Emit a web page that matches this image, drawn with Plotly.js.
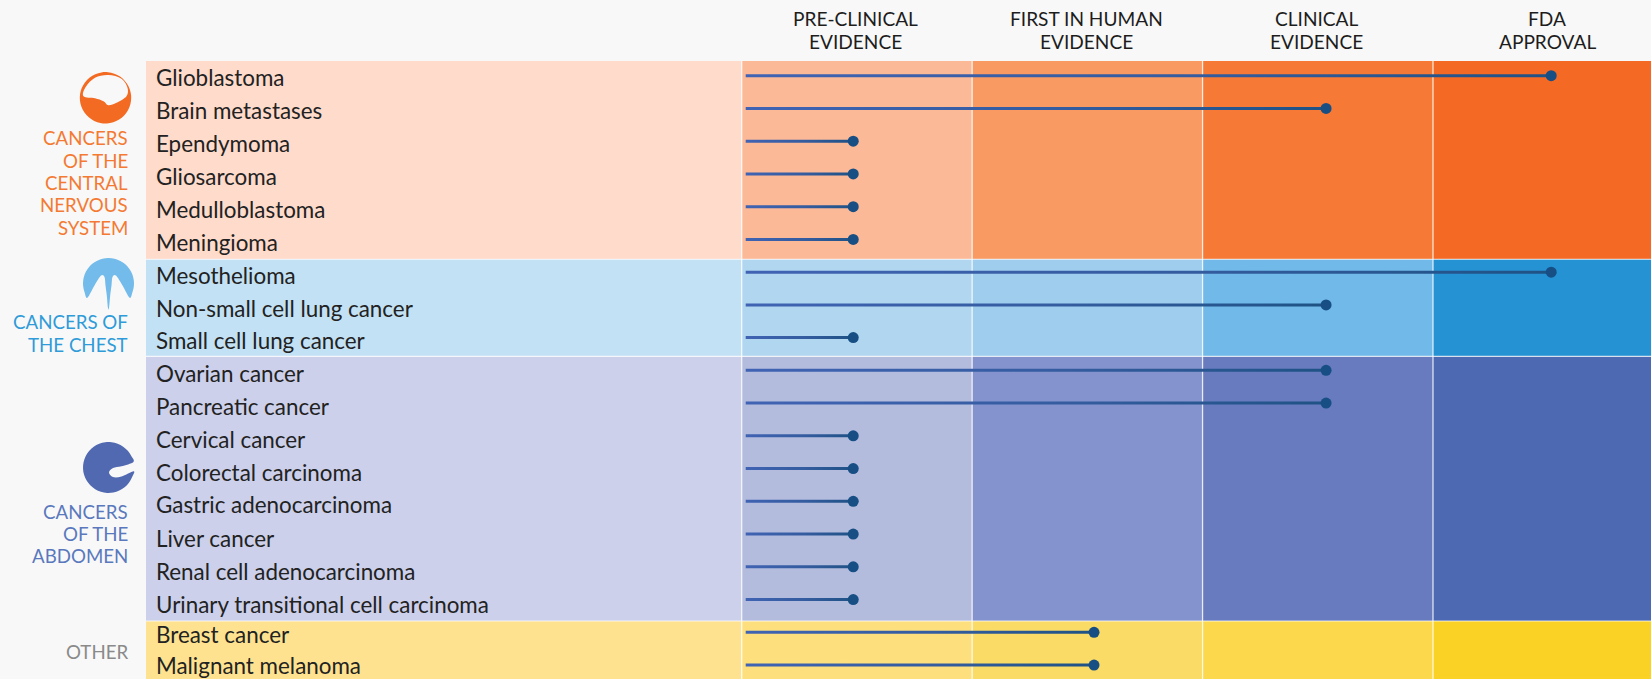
<!DOCTYPE html>
<html>
<head>
<meta charset="utf-8">
<script src="https://cdn.plot.ly/plotly-3.0.1.min.js"></script>
<style>html,body{margin:0;padding:0;background:#f8f8f8}#chart{width:1651px;height:679px}</style>
</head>
<body>
<div id="chart"></div>
<script>
// Cancer types in display order, with the furthest evidence stage each has reached.
const cancers = ["Glioblastoma","Brain metastases","Ependymoma","Gliosarcoma","Medulloblastoma","Meningioma",
  "Mesothelioma","Non-small cell lung cancer","Small cell lung cancer",
  "Ovarian cancer","Pancreatic cancer","Cervical cancer","Colorectal carcinoma","Gastric adenocarcinoma","Liver cancer","Renal cell adenocarcinoma","Urinary transitional cell carcinoma",
  "Breast cancer","Malignant melanoma"];
const stageReached = [3.513,2.536,0.484,0.484,0.484,0.484, 3.513,2.536,0.484, 2.536,2.536,0.484,0.484,0.484,0.484,0.484,0.484, 1.529,1.529];
const labelNudge = [1.4,1.8,2.2,2.8,2.6,3.4,3.2,3.4,2.8,2.8,3.2,3.8,4.2,3.6,4.1,4.8,4.6,2.6,0.1];
const stages = ["PRE-CLINICAL<br>EVIDENCE","FIRST IN HUMAN<br>EVIDENCE","CLINICAL<br>EVIDENCE","FDA<br>APPROVAL"];
const groupNames = ["CANCERS<br>OF THE<br>CENTRAL<br>NERVOUS<br>SYSTEM","CANCERS OF<br>THE CHEST","CANCERS<br>OF THE<br>ABDOMEN","OTHER"];
const groupTextColors = ["#f47a33","#2f9bd8","#5a78bd","#8a8a8a"];
const groupLabelRows = [1.912,7.532,13.317,17.593];
const groupEdges = [-0.449,5.607,8.57,16.655,18.43];
const bandColors = [
  ["#ffdbcb","#fcb997","#f99a63","#f67a35","#f46a24"],
  ["#c3e1f4","#b0d6f0","#9fcdee","#70b9e8","#2592d4"],
  ["#ccd0ea","#b4bcde","#8493cd","#677bbe","#4d69b2"],
  ["#fee290","#fedf7e","#fadb65","#fcd84c","#fad225"]];

// Axis frame: one x unit is one evidence stage, one y unit is one table row.
const xUnit = 230.43, xZero = 741.7, yUnit = 32.74, yZero = 75.7;
const toX = px => (px - xZero) / xUnit, toY = px => (px - yZero) / yUnit;
const xMin = toX(0), xMax = toX(1651), yTop = toY(0), yBottom = toY(679);
const tableLeft = toX(146);
const colEdges = [tableLeft,0,1,2,3,xMax];
const lineStart = 0.0174;

const shapes = [];
bandColors.forEach((row,g)=>row.forEach((c,k)=>shapes.push({
  type:"rect",xref:"x",yref:"y",layer:"below",
  x0:colEdges[k],x1:colEdges[k+1],y0:groupEdges[g],y1:groupEdges[g+1],
  fillcolor:c,line:{width:0}})));
// thin light rules between bands and columns
groupEdges.slice(1,4).forEach(y=>shapes.push({type:"line",xref:"x",yref:"y",layer:"below",x0:colEdges[0],x1:xMax,y0:y,y1:y,line:{color:"rgba(255,255,255,0.75)",width:1.2}}));
colEdges.slice(1,5).forEach(x=>shapes.push({type:"line",xref:"x",yref:"y",layer:"below",x0:x,x1:x,y0:groupEdges[0],y1:yBottom,line:{color:"rgba(255,255,255,0.8)",width:1.3}}));

// Body-region pictograms: closed smooth outlines in pixels around an anchor point.
function arc(r,a0,a1,n){const p=[];for(let i=0;i<=n;i++){const a=(a0+(a1-a0)*i/n)*Math.PI/180;p.push([r*Math.cos(a),r*Math.sin(a)]);}return p;}
function smooth(pts){
  const n=pts.length,f=v=>v.toFixed(2);
  const at=i=>pts[(i+n)%n];
  let d=`M${f(pts[0][0])},${f(-pts[0][1])}`;
  for(let i=0;i<n;i++){
    const a=at(i-1),b=at(i),c=at(i+1),e=at(i+2);
    d+=`C${f(b[0]+(c[0]-a[0])/6)},${f(-(b[1]+(c[1]-a[1])/6))} ${f(c[0]-(e[0]-b[0])/6)},${f(-(c[1]-(e[1]-b[1])/6))} ${f(c[0])},${f(-c[1])}`;
  }
  return d+"Z";
}
const brainHollow=[[-22,-1.5],[-20,-10.5],[-10.5,-20],[2.8,-22.7],[16,-19],[22,-10],[21,-1.5],[11,5],[2.8,7.5],[-2,3.5],[-10.5,0.5]];
const chestInner=[[21.5,14.5],[14,2],[7.5,-8],[4,-6.5],[3,2],[1.7,12],[0.5,24.5],[-0.5,24.5],[-1.7,12],[-3,2],[-4,-6.5],[-7.5,-8],[-14,2],[-21.5,14.5]];
const abdomenSlit=[[25.5,3.8],[13,9],[4.5,9.5],[0.5,5],[4.5,0.5],[13,-1.2],[24.8,-5.5]];
const icons=[
  {cx:105.5,cy:97.8,color:"#f36a22",path:smooth(arc(25.7,0,348,24))+smooth(brainHollow)},
  {cx:108.5,cy:283.5,color:"#72bbea",path:smooth(arc(25.5,146,394,18).concat(chestInner.slice(1,-1)))},
  {cx:108.5,cy:467.5,color:"#5069b1",path:smooth(arc(25.5,-12.5,-351.5,24).concat(abdomenSlit.slice(1,-1)))}];
icons.forEach(ic=>shapes.push({type:"path",xref:"x",yref:"y",xsizemode:"pixel",ysizemode:"pixel",
  xanchor:toX(ic.cx),yanchor:toY(ic.cy),path:ic.path,fillcolor:ic.color,line:{width:0}}));

const traces = cancers.map((name,i)=>({
  type:"scatter",mode:"lines",x:[lineStart,stageReached[i]],y:[i,i],
  line:{color:"#2f5a9e",width:3},hoverinfo:"skip",showlegend:false}));
traces.push({type:"scatter",mode:"markers",x:stageReached,y:cancers.map((_,i)=>i),
  marker:{color:"#174f85",size:11},showlegend:false,text:cancers,hoverinfo:"text"});

const annotations = [];
const labelFont = {family:"Lato, sans-serif",size:22.4,color:"#222222"};
cancers.forEach((name,i)=>annotations.push({xref:"x",yref:"y",x:tableLeft,y:i,xshift:8,yshift:-labelNudge[i],xanchor:"left",yanchor:"middle",text:name,showarrow:false,font:labelFont}));
stages.forEach((s,k)=>s.split("<br>").forEach((line,j)=>annotations.push({xref:"x",yref:"y",x:k+0.495,y:toY(18.3+23*j),xanchor:"center",yanchor:"middle",text:line,showarrow:false,font:{family:"Lato, sans-serif",size:19.1,color:"#1d1d1d"}})));
groupNames.forEach((s,g)=>s.split("<br>").forEach((line,j)=>annotations.push({xref:"x",yref:"y",x:tableLeft,xshift:-16,y:groupLabelRows[g]+j*22.3/yUnit,xanchor:"right",yanchor:"middle",text:line,showarrow:false,font:{family:"Lato, sans-serif",size:18.7,color:groupTextColors[g]}})));

Plotly.newPlot("chart",traces,{
  width:1651,height:679,margin:{l:0,r:0,t:0,b:0},
  paper_bgcolor:"#f8f8f8",plot_bgcolor:"#f8f8f8",showlegend:false,
  xaxis:{range:[xMin,xMax],visible:false,fixedrange:true},
  yaxis:{range:[yBottom,yTop],visible:false,fixedrange:true},
  shapes,annotations
},{displayModeBar:false,responsive:false}).then(gd=>{
  // Each progress line fades from a lighter blue at its start to the dot colour at its end.
  const svgNS="http://www.w3.org/2000/svg",defs=gd.querySelector(".main-svg defs");
  gd.querySelectorAll(".scatterlayer .trace .lines path").forEach((p,i)=>{
    const box=p.getBBox(),g=document.createElementNS(svgNS,"linearGradient");
    g.id="progress"+i;g.setAttribute("gradientUnits","userSpaceOnUse");
    g.setAttribute("x1",box.x);g.setAttribute("x2",box.x+box.width);g.setAttribute("y1",0);g.setAttribute("y2",0);
    [["0","#4063b3"],["0.55","#345c9f"],["1","#1f5285"]].forEach(([o,c])=>{
      const s=document.createElementNS(svgNS,"stop");s.setAttribute("offset",o);s.setAttribute("stop-color",c);g.appendChild(s);});
    defs.appendChild(g);
    p.style.stroke=`url(#progress${i})`;
  });
});
</script>
</body>
</html>
